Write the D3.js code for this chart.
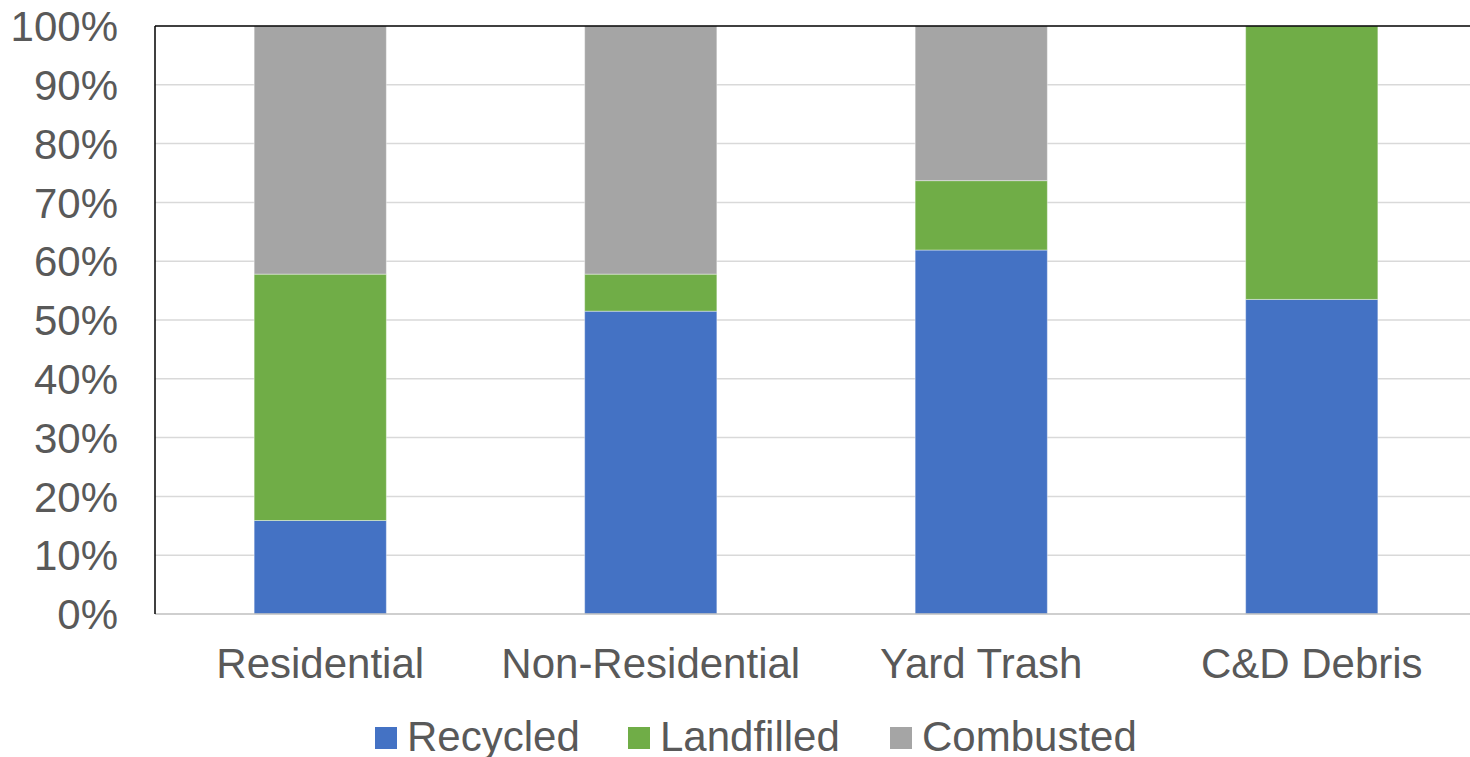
<!DOCTYPE html>
<head>
  <meta charset="utf-8">
  <script src="https://d3js.org/d3.v7.min.js"></script>
  <style>
    body { margin:0; background:#fff; }
    text { font-family: "Liberation Sans", Arial, sans-serif; fill:#595959; }
  </style>
</head>
<body>
  <script>
    var categories = ["Residential", "Non-Residential", "Yard Trash", "C&D Debris"];
    var seriesNames = ["Recycled", "Landfilled", "Combusted"];
    var recycled   = [15.9, 51.5, 61.9, 53.5];
    var landfilled = [41.9, 6.3, 11.8, 46.5];
    var combusted  = [42.2, 42.2, 26.3, 0];
    var yTicks = [0, 10, 20, 30, 40, 50, 60, 70, 80, 90, 100];
    var colors = ["#4472C4", "#70AD47", "#A5A5A5"];

    var rows = categories.map(function(c, i) {
      return { cat: c, Recycled: recycled[i], Landfilled: landfilled[i], Combusted: combusted[i] };
    });

    var svg = d3.select("body").append("svg")
      .attr("width", 1470)
      .attr("height", 757);

    var plotL = 155, plotT = 26, plotB = 614, plotR = 1477;

    var x = d3.scaleBand().domain(categories).range([plotL, plotR])
      .paddingInner(0.6).paddingOuter(0.3);
    var y = d3.scaleLinear().domain([0, 100]).range([plotB, plotT]);

    // gridlines
    svg.append("g").selectAll("line").data(yTicks.slice(1, -1)).enter()
      .append("line")
      .attr("x1", plotL).attr("x2", 1470)
      .attr("y1", function(d) { return y(d); })
      .attr("y2", function(d) { return y(d); })
      .attr("stroke", "#d9d9d9").attr("stroke-width", 1.5);

    var stack = d3.stack().keys(seriesNames)(rows);

    svg.append("g").selectAll("g").data(stack).enter()
      .append("g")
      .attr("fill", function(d, i) { return colors[i]; })
      .selectAll("rect").data(function(d) { return d; }).enter()
      .append("rect")
      .attr("x", function(d) { return x(d.data.cat); })
      .attr("width", x.bandwidth())
      .attr("y", function(d) { return y(d[1]); })
      .attr("height", function(d) { return y(d[0]) - y(d[1]); })
      .attr("stroke", "#ffffff").attr("stroke-opacity", 0.4).attr("stroke-width", 1);

    // axis lines
    svg.append("line").attr("x1", plotL).attr("x2", 1470).attr("y1", plotB).attr("y2", plotB)
      .attr("stroke", "#bfbfbf").attr("stroke-width", 1.5);
    svg.append("line").attr("x1", plotL).attr("x2", 1470).attr("y1", plotT).attr("y2", plotT)
      .attr("stroke", "#000").attr("stroke-width", 1.5);
    svg.append("line").attr("x1", plotL).attr("x2", plotL).attr("y1", plotT).attr("y2", plotB)
      .attr("stroke", "#000").attr("stroke-width", 1.5);

    // y tick labels
    svg.append("g").selectAll("text").data(yTicks).enter()
      .append("text")
      .attr("x", 118)
      .attr("y", function(d) { return y(d); })
      .attr("dy", "0.36em")
      .attr("text-anchor", "end")
      .style("font-size", "42px")
      .text(function(d) { return d + "%"; });

    // category labels
    svg.append("g").selectAll("text").data(categories).enter()
      .append("text")
      .attr("x", function(d) { return x(d) + x.bandwidth() / 2; })
      .attr("y", 678)
      .attr("text-anchor", "middle")
      .style("font-size", "42px")
      .text(function(d) { return d; });

    // legend
    var legendX = [375, 628, 890];
    var lg = svg.append("g").selectAll("g").data(seriesNames).enter()
      .append("g")
      .attr("transform", function(d, i) { return "translate(" + legendX[i] + ",727)"; });
    lg.append("rect").attr("width", 22).attr("height", 22)
      .attr("fill", function(d, i) { return colors[i]; });
    lg.append("text").attr("x", 32).attr("y", 24)
      .style("font-size", "42px")
      .text(function(d) { return d; });
  </script>
</body>
